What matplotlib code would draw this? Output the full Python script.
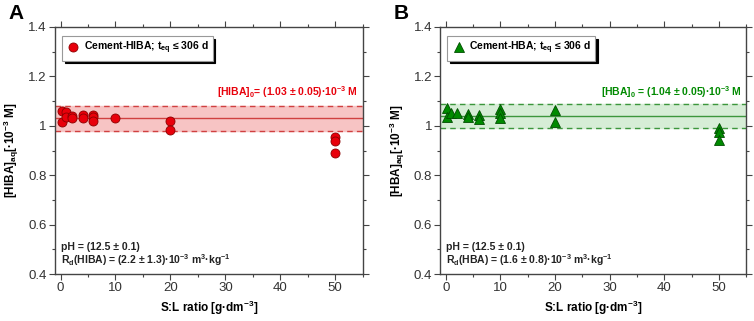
import matplotlib
matplotlib.use("Agg")
import matplotlib.pyplot as plt
from matplotlib.ticker import MultipleLocator, FuncFormatter

plt.rcParams['font.family'] = ['Liberation Sans', 'DejaVu Sans']
plt.rcParams['mathtext.default'] = 'regular'

# Cement-HIBA data
hiba_x = [0.25, 0.25, 1, 1, 2, 2, 4, 4, 6, 6, 6, 10, 20, 20, 50, 50, 50]
hiba_y = [1.06, 1.015, 1.055, 1.035, 1.04, 1.03, 1.045, 1.03, 1.045, 1.035, 1.02,
          1.03, 1.02, 0.985, 0.955, 0.94, 0.89]
hiba_mean, hiba_err = 1.03, 0.05

# Cement-HBA data
hba_x = [0.25, 0.25, 1, 2, 4, 4, 6, 6, 10, 10, 10, 20, 20, 50, 50, 50]
hba_y = [1.072, 1.036, 1.052, 1.052, 1.047, 1.036, 1.043, 1.028, 1.068, 1.05, 1.03,
         1.063, 1.014, 0.99, 0.975, 0.944]
hba_mean, hba_err = 1.04, 0.05

fig = plt.figure(figsize=(7.54, 3.21), dpi=100)
axA = fig.add_axes([0.073, 0.146, 0.408, 0.770])
axB = fig.add_axes([0.584, 0.146, 0.406, 0.770])

panels = [
    (axA, hiba_x, hiba_y, hiba_mean, hiba_err, 'o', '#e8000b', '#8b0000', '#f7c4c4', '#d04040',
     'Cement-HIBA; t$_{eq}$ ≤ 306 d', '[HIBA]$_0$= (1.03 ± 0.05)·10$^{-3}$ M',
     'R$_d$(HIBA) = (2.2 ± 1.3)·10$^{-3}$ m$^3$·kg$^{-1}$', '[HIBA]$_{aq}$[·10$^{-3}$ M]', 'A'),
    (axB, hba_x, hba_y, hba_mean, hba_err, '^', '#008a00', '#004d00', '#d6edd6', '#3c963c',
     'Cement-HBA; t$_{eq}$ ≤ 306 d', '[HBA]$_0$ = (1.04 ± 0.05)·10$^{-3}$ M',
     'R$_d$(HBA) = (1.6 ± 0.8)·10$^{-3}$ m$^3$·kg$^{-1}$', '[HBA]$_{aq}$[·10$^{-3}$ M]', 'B'),
]

for ax, xs, ys, mean, err, mk, fc, ec, band, bandline, lab, meantxt, rdtxt, ylab, letter in panels:
    ax.axhspan(mean - err, mean + err, color=band, zorder=0)
    ax.axhline(mean, color=bandline, lw=1.0, zorder=1)
    ax.axhline(mean + err, color=bandline, lw=1.0, ls=(0, (4, 3)), zorder=1)
    ax.axhline(mean - err, color=bandline, lw=1.0, ls=(0, (4, 3)), zorder=1)
    ms = 6.5 if mk == 'o' else 7.5
    ax.plot(xs, ys, mk, ms=ms, mfc=fc, mec=ec, mew=0.6, ls='none', label=lab, zorder=3)

    ax.set_xlim(-1, 55)
    ax.set_ylim(0.4, 1.4)
    ax.xaxis.set_major_locator(MultipleLocator(10))
    ax.xaxis.set_minor_locator(MultipleLocator(5))
    ax.yaxis.set_major_locator(MultipleLocator(0.2))
    ax.yaxis.set_minor_locator(MultipleLocator(0.1))
    ax.yaxis.set_major_formatter(FuncFormatter(lambda v, p: f'{v:g}'))
    ax.tick_params(which='both', direction='out', top=True, right=True, labelsize=9.5,
                   width=0.8, color='#444444', labelcolor='#333333', pad=2)
    ax.tick_params(which='major', length=4)
    ax.tick_params(which='minor', length=2.5)
    for s in ax.spines.values():
        s.set_color('#444444')
        s.set_linewidth(1.0)

    ax.set_xlabel('S:L ratio [g·dm$^{-3}$]', fontsize=8.5, fontweight='bold', labelpad=3)
    ax.set_ylabel(ylab, fontsize=8.5, fontweight='bold', labelpad=5)

    ax.text(0.985, 0.705, meantxt, transform=ax.transAxes, ha='right', va='bottom',
            fontsize=7.5, fontweight='bold', color=fc)
    ax.text(0.02, 0.09, 'pH = (12.5 ± 0.1)', transform=ax.transAxes, ha='left', va='bottom',
            fontsize=7.5, fontweight='bold', color='#222222')
    ax.text(0.02, 0.025, rdtxt, transform=ax.transAxes, ha='left', va='bottom',
            fontsize=7.5, fontweight='bold', color='#222222')

    leg = ax.legend(loc='upper left', bbox_to_anchor=(0.005, 0.985),
                    frameon=True, fancybox=False, shadow={'color': 'black', 'alpha': 1},
                    handletextpad=0.3, borderpad=0.4, handlelength=1.4,
                    prop={'weight': 'bold', 'size': 7.5})
    leg.get_frame().set_edgecolor('#999999')
    leg.get_frame().set_linewidth(0.8)

    bb = ax.get_position()
    fig.text(bb.x0 - 0.062, 0.958, letter, fontsize=15, fontweight='bold', ha='left', va='center')

fig.savefig('out.png', dpi=100)
